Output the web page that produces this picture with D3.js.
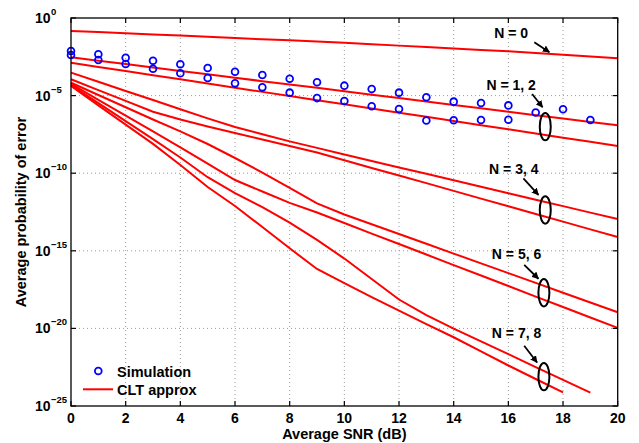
<!DOCTYPE html>
<html><head><meta charset="utf-8">
<script src="https://cdn.jsdelivr.net/npm/d3@7"></script>
<style>
body{margin:0;background:#fff}
text{font-family:"Liberation Sans",Arial,Helvetica,sans-serif;font-weight:bold;fill:#000}
</style>
</head><body>
<svg id="chart" width="639" height="443"></svg>
<script>
// Average SNR (dB) grid used by the curves
const snrDb = [0,1,2,3,4,5,6,7,8,9,10,11,12,13,14,15,16,17,18,19,20];
// log10 of average probability of error, CLT approximation, per N
const cltN0 = [-0.84,-0.91,-0.98,-1.06,-1.13,-1.21,-1.29,-1.37,-1.44,-1.52,-1.60,-1.69,-1.78,-1.87,-1.96,-2.06,-2.14,-2.26,-2.37,-2.48,-2.60];
const cltN1 = [-2.53,-2.75,-2.97,-3.19,-3.41,-3.63,-3.85,-4.07,-4.29,-4.50,-4.72,-4.94,-5.16,-5.38,-5.60,-5.82,-6.04,-6.26,-6.48,-6.70,-6.91];
const cltN2 = [-2.88,-3.15,-3.42,-3.69,-3.95,-4.22,-4.49,-4.76,-5.03,-5.30,-5.56,-5.83,-6.10,-6.37,-6.64,-6.91,-7.17,-7.44,-7.71,-7.98,-8.25];
const cltN3 = [-3.52,-4.11,-4.70,-5.28,-5.88,-6.47,-7.02,-7.49,-7.95,-8.37,-8.79,-9.21,-9.63,-10.04,-10.46,-10.87,-11.29,-11.71,-12.12,-12.54,-12.95];
const cltN4 = [-3.95,-4.65,-5.34,-6.04,-6.54,-6.99,-7.41,-7.83,-8.25,-8.67,-9.16,-9.66,-10.15,-10.64,-11.14,-11.64,-12.13,-12.63,-13.12,-13.62,-14.11];
const cltN5 = [-4.17,-4.96,-5.75,-6.54,-7.31,-8.12,-9.02,-9.96,-10.95,-11.95,-12.66,-13.29,-13.92,-14.55,-15.18,-15.81,-16.44,-17.07,-17.70,-18.33,-18.96];
const cltN6 = [-4.25,-5.27,-6.29,-7.31,-8.33,-9.38,-10.44,-11.18,-11.91,-12.53,-13.21,-13.89,-14.56,-15.24,-15.92,-16.59,-17.27,-17.95,-18.62,-19.30,-19.97];
const cltN7 = [-4.32,-5.48,-6.64,-7.80,-8.99,-10.26,-11.28,-12.18,-13.18,-14.30,-15.50,-16.82,-18.14,-19.14,-20.01,-20.84,-21.66,-22.49,-23.32,-24.14];
const cltN8 = [-4.38,-5.63,-6.87,-8.11,-9.47,-10.89,-12.11,-13.47,-14.84,-16.17,-17.09,-17.98,-18.85,-19.72,-20.57,-21.48,-22.39,-23.26,-24.12];
// Simulation points (log10 of error probability)
const simSnrA = [0,1,2,3,4,5,6,7,8,9,10,11,12,13,14,15,16,17,18,19];
const simA    = [-2.13,-2.34,-2.56,-2.75,-2.98,-3.22,-3.46,-3.67,-3.91,-4.14,-4.36,-4.58,-4.81,-5.11,-5.39,-5.48,-5.63,-6.09,-5.88,-6.57];
const simSnrB = [0,1,2,3,4,5,6,7,8,9,10,11,12,13,14,15,16];
const simB    = [-2.38,-2.71,-2.96,-3.27,-3.56,-3.87,-4.21,-4.47,-4.81,-5.16,-5.35,-5.69,-5.86,-6.60,-6.59,-6.57,-6.56];
// Axis ticks
const xTicks = [0,2,4,6,8,10,12,14,16,18,20];
const yTickExp = [0,-5,-10,-15,-20,-25];
const xLabel = "Average SNR (dB)";
const yLabel = "Average probability of error";
const legendLabels = ["Simulation","CLT approx"];
const annoLabels = ["N = 0","N = 1, 2","N = 3, 4","N = 5, 6","N = 7, 8"];

const svg = d3.select("#chart");
const L = 71, R = 617.7, T = 18, B = 406;
const x = d3.scaleLinear().domain([0,20]).range([L,R]);
const y = d3.scaleLog().domain([1e-25,1]).range([B,T]);

svg.append("rect").attr("width",639).attr("height",443).attr("fill","#fff");

// grid
const grid = svg.append("g").attr("stroke","#9a9a9a").attr("stroke-width",1).attr("stroke-dasharray","1,3");
xTicks.slice(1,-1).forEach(t=>grid.append("line").attr("x1",x(t)).attr("x2",x(t)).attr("y1",T).attr("y2",B));
yTickExp.slice(1,-1).forEach(e=>grid.append("line").attr("x1",L).attr("x2",R).attr("y1",y(Math.pow(10,e))).attr("y2",y(Math.pow(10,e))));

// curves
const curves = [cltN0,cltN1,cltN2,cltN3,cltN4,cltN5,cltN6,cltN7,cltN8];
const line = d3.line().x(d=>x(d[0])).y(d=>y(d[1]));
curves.forEach(c=>{
  const pts = c.map((v,i)=>[snrDb[i], Math.pow(10,v)]);
  svg.append("path").attr("d",line(pts)).attr("fill","none").attr("stroke","#ff0000").attr("stroke-width",2);
});

// simulation markers
const simPts = simA.map((v,i)=>[simSnrA[i],Math.pow(10,v)]).concat(simB.map((v,i)=>[simSnrB[i],Math.pow(10,v)]));
svg.append("g").selectAll("circle").data(simPts).join("circle")
  .attr("cx",d=>x(d[0])).attr("cy",d=>y(d[1])).attr("r",3.4)
  .attr("fill","none").attr("stroke","#0000ff").attr("stroke-width",1.8);

// axes box and ticks
svg.append("rect").attr("x",L).attr("y",T).attr("width",R-L).attr("height",B-T)
  .attr("fill","none").attr("stroke","#000").attr("stroke-width",1.3);
const tk = svg.append("g").attr("stroke","#000").attr("stroke-width",1.2);
xTicks.forEach(t=>{
  tk.append("line").attr("x1",x(t)).attr("x2",x(t)).attr("y1",B).attr("y2",B-5);
  tk.append("line").attr("x1",x(t)).attr("x2",x(t)).attr("y1",T).attr("y2",T+5);
});
yTickExp.forEach(e=>{
  const yy = y(Math.pow(10,e));
  tk.append("line").attr("x1",L).attr("x2",L+5).attr("y1",yy).attr("y2",yy);
  tk.append("line").attr("x1",R).attr("x2",R-5).attr("y1",yy).attr("y2",yy);
});
svg.append("g").selectAll("text").data(xTicks).join("text")
  .attr("x",d=>x(d)).attr("y",B+17).attr("text-anchor","middle").attr("font-size",14).text(d=>d);
yTickExp.forEach(e=>{
  const yy = y(Math.pow(10,e));
  svg.append("text").attr("x",35).attr("y",yy+5).attr("font-size",14).text("10");
  svg.append("text").attr("x",51).attr("y",yy-3).attr("font-size",9.5)
    .text(e===0?"0":"\u2212"+(-e));
});
svg.append("text").attr("x",(L+R)/2).attr("y",439).attr("text-anchor","middle").attr("font-size",14.5).text(xLabel);
svg.append("text").attr("transform",`translate(26,${(T+B)/2}) rotate(-90)`).attr("text-anchor","middle").attr("font-size",14.5).text(yLabel);

// annotations
const anno = [
  {t:annoLabels[0], tx:16.1, ty:-0.99, ax1:[16.95,-1.56], ax2:[17.5,-2.2], ell:null},
  {t:annoLabels[1], tx:16.1, ty:-4.32, ax1:[16.87,-4.9], ax2:[17.25,-5.75], ell:[17.35,-7.0]},
  {t:annoLabels[2], tx:16.2, ty:-9.75, ax1:[16.55,-10.33], ax2:[17.1,-11.4], ell:[17.35,-12.37]},
  {t:annoLabels[3], tx:16.3, ty:-15.22, ax1:[16.58,-15.9], ax2:[17.1,-16.8], ell:[17.30,-17.70]},
  {t:annoLabels[4], tx:16.3, ty:-20.32, ax1:[16.58,-21.12], ax2:[17.05,-22.2], ell:[17.30,-23.11]}
];
svg.append("defs").append("marker").attr("id","ah").attr("viewBox","0 0 10 10").attr("refX",9).attr("refY",5)
  .attr("markerWidth",4).attr("markerHeight",4).attr("orient","auto")
  .append("path").attr("d","M0,0 L10,5 L0,10 z").attr("fill","#000");
anno.forEach(a=>{
  svg.append("text").attr("x",x(a.tx)).attr("y",y(Math.pow(10,a.ty))+5).attr("text-anchor","middle").attr("font-size",14).text(a.t);
  svg.append("line").attr("x1",x(a.ax1[0])).attr("y1",y(Math.pow(10,a.ax1[1])))
    .attr("x2",x(a.ax2[0])).attr("y2",y(Math.pow(10,a.ax2[1])))
    .attr("stroke","#000").attr("stroke-width",1.8).attr("marker-end","url(#ah)");
  if(a.ell){
    svg.append("ellipse").attr("cx",x(a.ell[0])).attr("cy",y(Math.pow(10,a.ell[1]))).attr("rx",5.5).attr("ry",13.7)
      .attr("fill","none").attr("stroke","#000").attr("stroke-width",2);
  }
});

// legend
const lg = svg.append("g");
lg.append("circle").attr("cx",98.3).attr("cy",371).attr("r",3.4).attr("fill","none").attr("stroke","#0000ff").attr("stroke-width",1.8);
lg.append("line").attr("x1",83).attr("x2",113).attr("y1",389.3).attr("y2",389.3).attr("stroke","#ff0000").attr("stroke-width",2);
lg.append("text").attr("x",117).attr("y",376.5).attr("font-size",14.5).text(legendLabels[0]);
lg.append("text").attr("x",117).attr("y",394.5).attr("font-size",14.5).text(legendLabels[1]);
</script>
</body></html>
